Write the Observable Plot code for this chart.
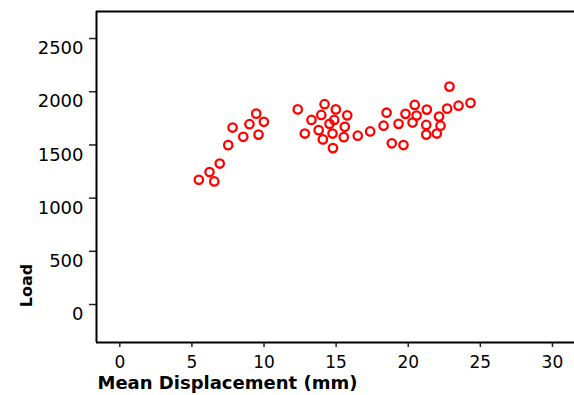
<!DOCTYPE html>
<html>
<head>
<meta charset="utf-8">
<script src="https://cdn.jsdelivr.net/npm/d3@7"></script>
<script src="https://cdn.jsdelivr.net/npm/@observablehq/plot@0.6"></script>
<style>
  html, body { margin: 0; padding: 0; background: #fff; }
  #chart svg { display: block; }
</style>
</head>
<body>
<div id="chart"></div>
<script>
const displacement = [
  5.48, 6.22, 6.55, 6.93, 7.52, 7.82, 8.56, 8.99, 9.46, 9.99, 9.62,
  12.34, 14.2, 14.98, 13.97, 13.29, 15.77, 14.87, 14.54, 15.6, 12.83, 13.79,
  14.75, 14.08, 15.53, 14.78, 16.5, 17.36,
  18.5, 18.29, 19.33, 18.86, 19.67, 19.81, 20.45, 20.58, 20.3,
  21.29, 22.14, 21.25, 22.24, 21.25, 21.98, 22.86, 22.7, 23.49, 24.32
];
const load = [
  1172, 1245, 1157, 1325, 1498, 1663, 1576, 1695, 1794, 1717, 1597,
  1834, 1883, 1834, 1782, 1735, 1778, 1735, 1698, 1670, 1607, 1639,
  1607, 1552, 1573, 1470, 1587, 1627,
  1803, 1681, 1698, 1515, 1499, 1792, 1876, 1776, 1710,
  1832, 1766, 1688, 1681, 1597, 1607, 2048, 1841, 1869, 1895
];
const xTicks = [0, 5, 10, 15, 20, 25, 30];
const yTicks = [0, 500, 1000, 1500, 2000, 2500];
const xDomain = [-1.616, 31.53];
const yDomain = [-357, 2754];
const xTitle = "Mean Displacement (mm)";
const yTitle = "Load";

const data = displacement.map((d, i) => ({x: d, y: load[i]}));

const chart = Plot.plot({
  width: 574,
  height: 395,
  marginLeft: 96,
  marginRight: 0,
  marginTop: 11,
  marginBottom: 53,
  style: {fontFamily: "DejaVu Sans", background: "#fff", color: "#000"},
  x: {domain: xDomain},
  y: {domain: yDomain},
  marks: [
    Plot.axisX({ticks: xTicks, tickFormat: d => String(d), tickSize: 5, tickPadding: 8, fontSize: 17, label: null, stroke: "#222", strokeWidth: 1.5}),
    Plot.axisY({ticks: yTicks, tickFormat: () => "", tickSize: 7, label: null, stroke: "#222", strokeWidth: 1.5}),
    Plot.axisY({ticks: yTicks, tickFormat: d => String(d), tickSize: 0, tickPadding: 13, fontSize: 18, dy: 10, label: null}),
    Plot.ruleX([xDomain[0]], {stroke: "#000", strokeWidth: 2}),
    Plot.ruleY([yDomain[0]], {stroke: "#000", strokeWidth: 2}),
    Plot.ruleY([yDomain[1]], {stroke: "#000", strokeWidth: 2}),
    Plot.dot(data, {x: "x", y: "y", r: 4.2, stroke: "#ff0000", strokeWidth: 2.3, fill: "none"}),
    Plot.text([xTitle], {frameAnchor: "bottom-left", textAnchor: "start", lineAnchor: "middle", dx: 1, dy: 41, fontSize: 18, fontWeight: "bold", fill: "#000"}),
    Plot.text([yTitle], {frameAnchor: "bottom-left", textAnchor: "middle", lineAnchor: "middle", dx: -70, dy: -57, rotate: -90, fontSize: 16, fontWeight: "bold", fill: "#000"})
  ]
});
document.getElementById("chart").appendChild(chart);
</script>
</body>
</html>
